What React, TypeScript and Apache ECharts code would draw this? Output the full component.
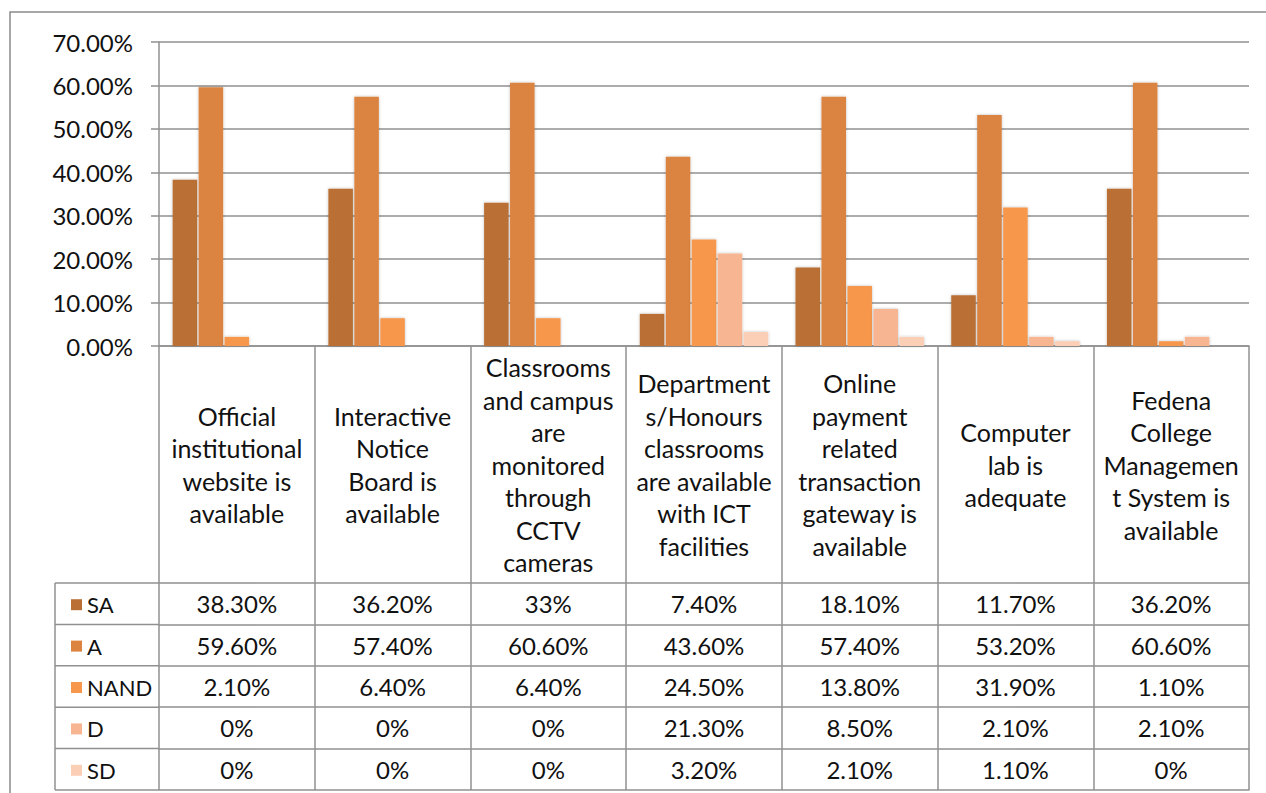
import React, { useEffect, useRef } from "react";
import * as echarts from "echarts";

const categories = [
  "Official institutional website is available",
  "Interactive Notice Board is available",
  "Classrooms and campus are monitored through CCTV cameras",
  "Departments/Honours classrooms are available with ICT facilities",
  "Online payment related transaction gateway is available",
  "Computer lab is adequate",
  "Fedena College Management System is available",
];
// tick labels as wrapped in the reference
const categoryLabels = [
  "Official\ninstitutional\nwebsite is\navailable",
  "Interactive\nNotice\nBoard is\navailable",
  "Classrooms\nand campus\nare\nmonitored\nthrough\nCCTV\ncameras",
  "Department\ns/Honours\nclassrooms\nare available\nwith ICT\nfacilities",
  "Online\npayment\nrelated\ntransaction\ngateway is\navailable",
  "Computer\nlab is\nadequate",
  "Fedena\nCollege\nManagemen\nt System is\navailable",
];
const seriesNames = ["SA", "A", "NAND", "D", "SD"];
const SA = [38.3, 36.2, 33, 7.4, 18.1, 11.7, 36.2];
const A = [59.6, 57.4, 60.6, 43.6, 57.4, 53.2, 60.6];
const NAND = [2.1, 6.4, 6.4, 24.5, 13.8, 31.9, 1.1];
const D = [0, 0, 0, 21.3, 8.5, 2.1, 2.1];
const SD = [0, 0, 0, 3.2, 2.1, 1.1, 0];
const seriesValues = [SA, A, NAND, D, SD];
const colors = ["#BA7034", "#DB833F", "#F6974B", "#F8B591", "#FBCEB6"];
const yMin = 0;
const yMax = 70;
const yInterval = 10;

const FONT = "Lato";
const FS = 24;
const FS_LEG = 22;
const FS_CAT = 25;
const TEXT = "#111111";
const LINE = "#909090";

const GRID_LEFT = 159;
const GRID_RIGHT_X = 1249;
const GRID_TOP = 42;
const AXIS_Y = 346;
const HEADER_H = 237;
const ROW_H = 41.4;
const TABLE_LEFT = 55;
const W = 1266;
const H = 793;

const fmtCell = (v: number) =>
  v === 0 ? "0%" : Number.isInteger(v) ? `${v}%` : `${v.toFixed(2)}%`;

export default function App() {
  const ref = useRef<HTMLDivElement>(null);
  useEffect(() => {
    if (!ref.current) return;
    const chart = echarts.init(ref.current, undefined, { renderer: "svg" });
    const lineStyle = { color: LINE, width: 1.5 };
    const tableTop = AXIS_Y + HEADER_H;

    const rowAxes = seriesValues.map((vals, i) => ({
      type: "category",
      gridIndex: 0,
      position: "bottom",
      data: categories,
      offset: HEADER_H + ROW_H * i,
      axisLine: { show: true, lineStyle },
      axisTick: { show: true, length: ROW_H, interval: 0, lineStyle },
      axisLabel: {
        show: true,
        interval: 0,
        margin: ROW_H / 2,
        verticalAlign: "middle",
        fontFamily: FONT,
        fontSize: FS,
        color: TEXT,
        formatter: (_v: string, idx: number) => fmtCell(vals[idx]),
      },
      splitLine: { show: false },
    }));

    const graphicEls: any[] = [
      {
        type: "rect",
        shape: { x: 10, y: 12, width: W + 20, height: H + 20 },
        style: { fill: "none", stroke: "#8a8a8a", lineWidth: 1.5 },
        silent: true,
      },
      {
        type: "line",
        shape: { x1: TABLE_LEFT, y1: tableTop, x2: TABLE_LEFT, y2: tableTop + ROW_H * 5 },
        style: { stroke: LINE, lineWidth: 1.5 },
        silent: true,
      },
    ];
    for (let i = 0; i <= 5; i++) {
      const y = tableTop + ROW_H * i;
      graphicEls.push({
        type: "line",
        shape: { x1: TABLE_LEFT, y1: y, x2: GRID_LEFT, y2: y },
        style: { stroke: LINE, lineWidth: 1.5 },
        silent: true,
      });
    }

    chart.setOption({
      animation: false,
      backgroundColor: "#ffffff",
      textStyle: { fontFamily: FONT },
      grid: {
        left: GRID_LEFT,
        right: W - GRID_RIGHT_X,
        top: GRID_TOP,
        bottom: H - AXIS_Y,
        containLabel: false,
        outerBoundsMode: "none",
      },
      legend: {
        orient: "vertical",
        left: 66,
        top: tableTop + ROW_H / 2 - 15,
        itemWidth: 11,
        itemHeight: 11,
        itemGap: ROW_H - 22,
        itemTextGap: 8,
        icon: "rect",
        data: seriesNames,
        textStyle: { fontFamily: FONT, fontSize: FS_LEG, lineHeight: 22, color: TEXT },
        selectedMode: false,
      },
      xAxis: [
        {
          type: "category",
          gridIndex: 0,
          position: "bottom",
          data: categories,
          axisLine: { show: true, lineStyle },
          axisTick: { show: true, length: HEADER_H, interval: 0, lineStyle },
          axisLabel: {
            interval: 0,
            margin: HEADER_H / 2,
            verticalAlign: "middle",
            align: "center",
            fontFamily: FONT,
            fontSize: FS_CAT,
            lineHeight: 32.5,
            color: TEXT,
            formatter: (_v: string, idx: number) => categoryLabels[idx],
          },
          splitLine: { show: false },
        },
        ...rowAxes,
        {
          type: "category",
          gridIndex: 0,
          position: "bottom",
          data: categories,
          offset: HEADER_H + ROW_H * 5,
          axisLine: { show: true, lineStyle },
          axisTick: { show: false },
          axisLabel: { show: false },
          splitLine: { show: false },
        },
      ],
      yAxis: {
        type: "value",
        min: yMin,
        max: yMax,
        interval: yInterval,
        axisLine: { show: true, lineStyle },
        axisTick: { show: true, length: 8, lineStyle },
        axisLabel: {
          margin: 26,
          fontFamily: FONT,
          fontSize: FS,
          color: TEXT,
          formatter: (v: number) => `${v.toFixed(2)}%`,
        },
        splitLine: { show: true, lineStyle },
      },
      series: seriesNames.map((name, i) => ({
        name,
        type: "bar",
        xAxisIndex: 0,
        data: seriesValues[i],
        barWidth: 24.5,
        barGap: "6%",
        itemStyle: {
          color: colors[i],
          shadowBlur: 3,
          shadowColor: "rgba(0,0,0,0.25)",
        },
      })),
      graphic: graphicEls,
    });
    return () => chart.dispose();
  }, []);
  return (
    <div
      ref={ref}
      style={{ position: "fixed", left: 0, top: 0, width: W, height: H, background: "#fff" }}
    />
  );
}
